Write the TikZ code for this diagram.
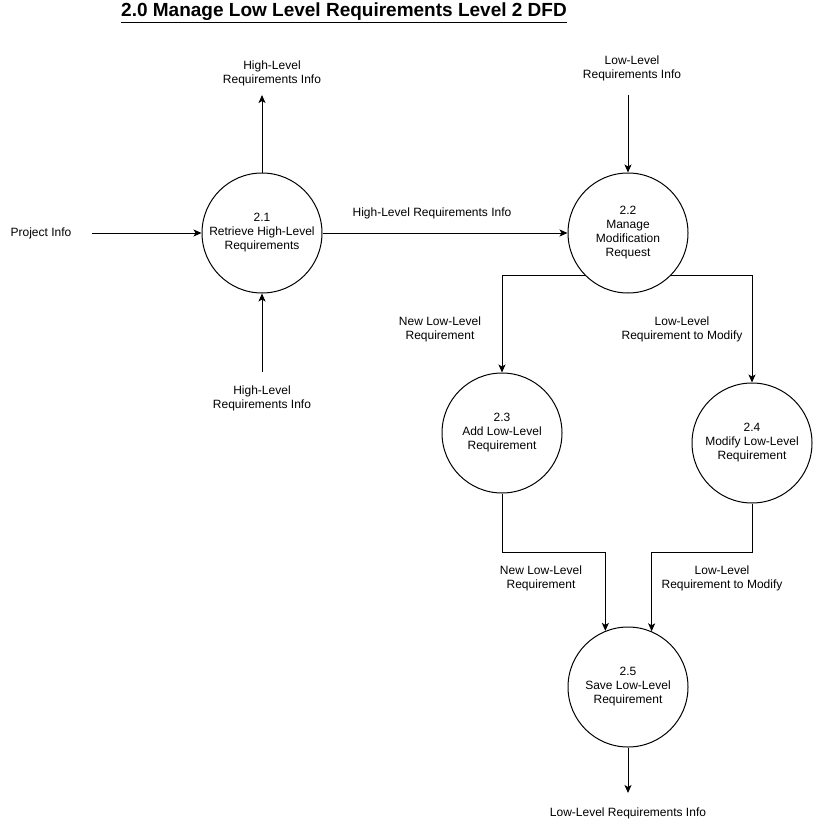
\documentclass[tikz,border=0pt]{standalone}
\usepackage{fontspec}
\setmainfont{Liberation Sans}
\usetikzlibrary{arrows.meta}

\begin{document}
\begin{tikzpicture}[x=1pt, y=-1pt,
    proc/.style={circle, draw, line width=1pt, minimum size=120pt, inner sep=0pt,
      align=center, font=\fontsize{12}{14}\selectfont},
    lbl/.style={align=center, font=\fontsize{12}{14}\selectfont},
    flow/.style={line width=1pt, -{Stealth[length=8pt, width=7pt, inset=2pt]}}]

    % Page
    \fill[white] (0,0) rectangle (814,824);
    \useasboundingbox (0,0) rectangle (814,824);

    % Title
    \node[font=\fontsize{19}{22}\selectfont\bfseries] (title) at (344,13)
      {\underline{2.0 Manage Low Level Requirements Level 2 DFD}};

    % Processes
    \node[proc] (p21) at (262,233) {2.1\\Retrieve High-Level\\Requirements};
    \node[proc] (p22) at (628,233) {2.2\\Manage\\Modification\\Request};
    \node[proc] (p23) at (502,433) {2.3\\Add Low-Level\\Requirement};
    \node[proc] (p24) at (752,443) {2.4\\Modify Low-Level\\Requirement};
    \node[proc] (p25) at (628,687) {2.5\\Save Low-Level\\Requirement};

    % External labels
    \node[lbl] (projinfo) at (41,233) {Project Info};
    \node[lbl] (hlout) at (272,73) {High-Level\\Requirements Info};
    \node[lbl] (hlin) at (262,398) {High-Level\\Requirements Info};
    \node[lbl] (llin) at (632,68) {Low-Level\\Requirements Info};
    \node[lbl] (llout) at (628,813) {Low-Level Requirements Info};

    % Free ends
    \coordinate (projend) at (92,233);
    \coordinate (hloutend) at (262,95);
    \coordinate (hlinend) at (262,372);
    \coordinate (llinend) at (628,95);
    \coordinate (lloutend) at (628,793);

    % Flows
    \draw[flow] (projend) -- (p21);
    \draw[flow] (p21) -- (hloutend);
    \draw[flow] (hlinend) -- (p21);
    \draw[flow] (p21) -- (p22);
    \draw[flow] (llinend) -- (p22);
    \draw[flow] (p22.south west) -| (p23);
    \draw[flow] (p22.south east) -| (p24);
    \draw[flow] (p23.south) -- ++(0,59) -| (p25.112.5);
    \draw[flow] (p24.south) -- ++(0,49) -| (p25.67.5);
    \draw[flow] (p25) -- (lloutend);

    % Flow labels
    \node[lbl] (hllbl) at (432,213) {High-Level Requirements Info};
    \node[lbl] (newlbl1) at (440,329) {New Low-Level\\Requirement};
    \node[lbl] (modlbl1) at (682,329) {Low-Level\\Requirement to Modify};
    \node[lbl] (newlbl2) at (541,578) {New Low-Level\\Requirement};
    \node[lbl] (modlbl2) at (722,578) {Low-Level\\Requirement to Modify};
\end{tikzpicture}
\end{document}
